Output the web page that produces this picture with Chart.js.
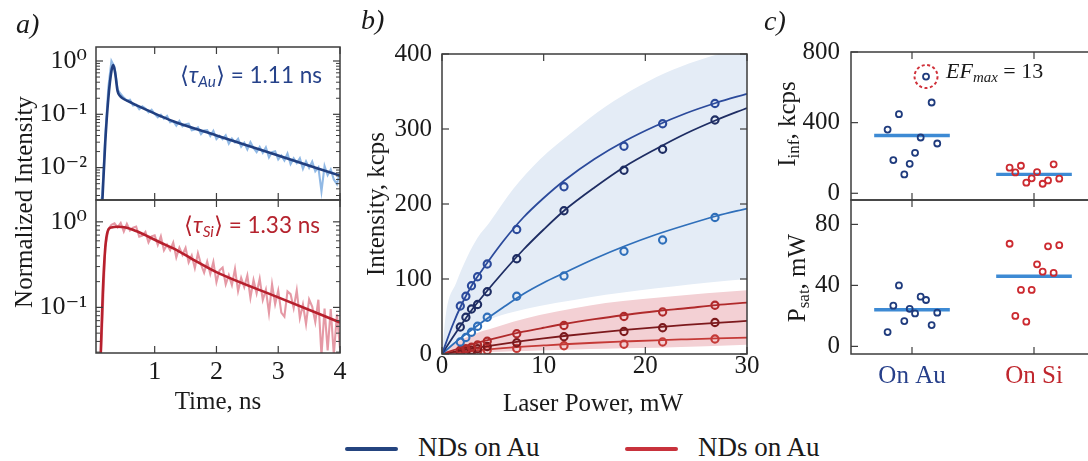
<!DOCTYPE html>
<html>
<head>
<meta charset="utf-8">
<title>NDs on Au / Si: decay, saturation and statistics</title>
<script src="https://cdn.jsdelivr.net/npm/chart.js@4.4.1/dist/chart.umd.min.js"></script>
<style>
  body { margin: 0; background: #fff; }
  #figure {
    position: relative; width: 1088px; height: 461px; overflow: hidden; background: #fff;
    font-family: 'Liberation Serif', 'DejaVu Serif', serif; color: #1a1a1a;
  }
  #figure canvas { position: absolute; }
  .txt { position: absolute; white-space: nowrap; line-height: 1; font-family: 'Liberation Serif', 'DejaVu Serif', serif; }
  .cxy { transform: translate(-50%, -50%); }
  .cy { transform: translateY(-50%); }
  .rot { transform: translate(-50%, -50%) rotate(-90deg); }
  .panel { font-style: italic; font-size: 28px; }
  .title { font-size: 25px; }
  .note { font-family: Lato, 'Open Sans', sans-serif; font-size: 22.5px; }
  .legend { font-size: 27px; font-family: 'Liberation Serif', serif; }
  .legend-line { position: absolute; height: 4px; width: 53px; border-radius: 2px; }
  sub { font-size: 0.68em; vertical-align: -0.28em; line-height: 0; }
</style>
</head>
<body>
<div id="figure">
  <canvas id="decayAu"></canvas>
  <canvas id="decaySi"></canvas>
  <canvas id="powerChart"></canvas>
  <canvas id="iinfChart"></canvas>
  <canvas id="psatChart"></canvas>

  <div class="txt panel cy" style="left:16px; top:24px">a)</div>
  <div class="txt panel cy" style="left:361px; top:20px">b)</div>
  <div class="txt panel cy" style="left:764px; top:21px">c)</div>

  <div class="txt title rot" style="left:23px; top:202px">Normalized Intensity</div>
  <div class="txt title cxy" style="left:218px; top:400px">Time, ns</div>
  <div class="txt title rot" style="left:375px; top:204px">Intensity, kcps</div>
  <div class="txt title cxy" style="left:593px; top:402px">Laser Power, mW</div>
  <div class="txt title rot" style="left:786px; top:124px">I<sub>inf</sub>, kcps</div>
  <div class="txt title rot" style="left:796px; top:278px">P<sub>sat</sub>, mW</div>

  <div class="txt note cy" style="right:766px; top:75px; color:#26428a">&#x27E8;<i>&tau;<sub>Au</sub></i>&#x27E9; = 1.11 ns</div>
  <div class="txt note cy" style="right:768px; top:225px; color:#b5232e">&#x27E8;<i>&tau;<sub>Si</sub></i>&#x27E9; = 1.33 ns</div>
  <div class="txt cy" style="left:946px; top:71px; font-size:22px"><i>EF<sub>max</sub></i> = 13</div>

  <div class="legend-line" style="left:345px; top:447px; background:#24447f"></div>
  <div class="txt legend cy" style="left:418px; top:447px">NDs on Au</div>
  <div class="legend-line" style="left:625px; top:447px; background:#c8323c"></div>
  <div class="txt legend cy" style="left:698px; top:447px">NDs on Au</div>
</div>

<script>
/* ==========================================
   DATA
   ========================================== */

// a) time-resolved PL, ns / normalized counts
const decayTime = [
  0.10, 0.15, 0.20, 0.25, 0.30, 0.35, 0.40, 0.45, 0.50, 0.55, 0.60, 0.65, 0.70, 0.75, 0.80, 0.85, 0.90, 0.95,
  1.00, 1.05, 1.10, 1.15, 1.20, 1.25, 1.30, 1.35, 1.40, 1.45, 1.50, 1.55, 1.60, 1.65, 1.70, 1.75, 1.80, 1.85, 1.90, 1.95,
  2.00, 2.05, 2.10, 2.15, 2.20, 2.25, 2.30, 2.35, 2.40, 2.45, 2.50, 2.55, 2.60, 2.65, 2.70, 2.75, 2.80, 2.85, 2.90, 2.95,
  3.00, 3.05, 3.10, 3.15, 3.20, 3.25, 3.30, 3.35, 3.40, 3.45, 3.50, 3.55, 3.60, 3.65, 3.70, 3.75, 3.80, 3.85, 3.90, 3.95,
  4.00
];
const auDecayData = [
  0.0015, 0.003, 0.04, 0.32, 1.0, 0.78, 0.29, 0.24, 0.206, 0.181, 0.187, 0.146, 0.151, 0.125, 0.141, 0.128, 0.1095, 0.122,
  0.1016, 0.088, 0.0983, 0.0828, 0.0931, 0.0709, 0.0741, 0.0613, 0.0747, 0.0598, 0.0651, 0.067, 0.0502, 0.0517, 0.0567, 0.0425, 0.0496, 0.0507, 0.0395, 0.049,
  0.0344, 0.0395, 0.0342, 0.0402, 0.0283, 0.035, 0.0297, 0.0347, 0.0248, 0.0292, 0.0219, 0.03, 0.0233, 0.0195, 0.0245, 0.0189, 0.024, 0.0156, 0.0196, 0.0203,
  0.0142, 0.0168, 0.0136, 0.0184, 0.0117, 0.0149, 0.0122, 0.015, 0.0095, 0.0131, 0.0099, 0.013, 0.0085, 0.0101, 0.0036, 0.0107, 0.0072, 0.0092, 0.006, 0.0049,
  0.0085
];
const siDecayData = [
  0.01, 0.06, 0.5, 0.82, 0.92, 0.96, 0.86, 0.97, 0.771, 0.947, 0.79, 0.853, 0.881, 0.67, 0.689, 0.76, 0.574, 0.677,
  0.696, 0.537, 0.679, 0.464, 0.54, 0.466, 0.572, 0.385, 0.499, 0.412, 0.497, 0.335, 0.404, 0.289, 0.43, 0.317, 0.255, 0.343, 0.247, 0.34,
  0.198, 0.271, 0.292, 0.186, 0.238, 0.183, 0.281, 0.155, 0.221, 0.173, 0.236, 0.13, 0.209, 0.146, 0.216, 0.122, 0.161, 0.086, 0.186, 0.109,
  0.157, 0.087, 0.078, 0.154, 0.143, 0.098, 0.158, 0.075, 0.108, 0.064, 0.124, 0.102, 0.0675, 0.123, 0.0275, 0.097, 0.0314, 0.0954, 0.028, 0.0828,
  0.0334
];
const auFitTime = [0.15, 0.2, 0.25, 0.3, 0.33, 0.36, 0.4, 0.44, 0.48, 0.6, 0.69, 0.9, 1.1, 1.31, 2, 3, 4];
const auFitValues = [0.002, 0.03, 0.2, 0.65, 0.84, 0.6, 0.27, 0.22, 0.2, 0.17, 0.15, 0.117, 0.092, 0.073, 0.04, 0.0168, 0.0071];
const siFitTime = [0.12, 0.16, 0.2, 0.24, 0.3, 0.4, 0.53, 0.7, 0.9, 1.1, 1.31, 1.6, 2.0, 3.0, 4.0];
const siFitValues = [0.02, 0.15, 0.5, 0.78, 0.86, 0.875, 0.86, 0.78, 0.67, 0.57, 0.486, 0.37, 0.258, 0.131, 0.0667];
const decayTicks = [1, 2, 3, 4];

// b) saturation curves, mW / kcps
const laserPower = [1.8, 2.35, 2.9, 3.5, 4.45, 7.35, 12.0, 17.9, 21.7, 26.85];
const auTopIntensity = [64, 77, 91, 103, 120, 166, 223, 277, 307, 334];
const auMidIntensity = [36, 49, 60, 66, 83, 127, 191, 245, 273, 312];
const auLowIntensity = [16, 22, 29, 37, 49, 77, 104, 137, 152, 182];
const siTopIntensity = [5, 7, 9, 12, 17, 27, 38, 50, 56, 65];
const siMidIntensity = [3, 4, 5, 7, 10, 15, 23, 30, 35, 42];
const siLowIntensity = [1.5, 2, 2.5, 3.5, 5, 7.5, 11, 13, 16, 20];

const fitPower = [0, 1, 2, 3, 4, 6, 8, 10, 12, 15, 18, 21, 24, 27, 30];
const auTopFit = [0, 37, 68, 93, 113, 150, 182, 208, 231, 260, 284, 304, 321, 335, 347];
const auMidFit = [0, 21, 41, 60, 77, 109, 139, 166, 191, 222, 250, 273, 294, 312, 328];
const auLowFit = [0, 12, 23, 33, 43, 62, 80, 95, 108, 127, 144, 159, 172, 184, 194];
const siTopFit = [0, 4.6, 9, 13, 16.8, 23.6, 29.7, 35, 40, 46.4, 52, 57, 61, 65.2, 68.4];
const siMidFit = [0, 2.6, 5, 7.3, 9.5, 13.6, 17.4, 20.8, 24, 28.3, 32.1, 35.6, 38.7, 41.5, 44.1];
const siLowFit = [0, 1.5, 3, 4.3, 5.5, 7.7, 9.7, 11.4, 13, 15, 16.7, 18.3, 19.6, 20.8, 21.8];

const bandPower = [0, 0.4, 1.4, 2.5, 3.5, 4.65, 7, 9.6, 13, 16.1, 19.5, 22.7, 26, 30];
const auBandUpper = [0, 55, 95, 130, 155, 175, 220, 259, 298, 330, 358, 379, 395, 410];
const auBandLower = [0, 6, 19, 30, 38, 46, 56, 64, 72, 79, 85, 90, 95, 100];
const siBandUpper = [0, 5, 15, 23, 28.5, 33, 43, 52, 61, 68, 73, 77, 81, 85];
const siBandLower = [0, 0.5, 1, 1.7, 2.1, 2.6, 3.7, 4.8, 6, 7, 8, 9, 10.5, 12.4];
const powerTicksX = [0, 10, 20, 30];
const powerTicksY = [0, 100, 200, 300, 400];

// c) per-particle fit parameters
const substrates = ['On Au', 'On Si'];
const jitter = [-0.2, -0.153, -0.107, -0.063, -0.019, 0.025, 0.071, 0.115, 0.161, 0.207];
const auIinf = [361, 188, 448, 107, 167, 229, 316, 661, 514, 282];
const siIinf = [145, 118, 156, 60, 85, 120, 54, 73, 164, 83];
const auPsat = [9.4, 26.7, 40, 16.6, 24.6, 21.6, 32.6, 30.4, 14, 22.1];
const siPsat = [67.3, 20, 37, 16.2, 37, 53.8, 49, 65.6, 48.2, 66.4];
const meanIinf = [327, 107];
const meanPsat = [24, 46];
const efMaxIndex = 7;
const iinfTicks = [0, 400, 800];
const psatTicks = [0, 40, 80];

/* ==========================================
   STYLE
   ========================================== */

const FONT = "'Liberation Serif', 'DejaVu Serif', serif";
const INK = '#1a1a1a';
const FRAME = '#3d3d3d';
const AU_FIT = '#213f80';
const AU_RAW = 'rgba(118, 168, 222, 0.8)';
const SI_FIT = '#b7202d';
const SI_RAW = 'rgba(222, 128, 142, 0.8)';
const AU_DOT = '#1f3b7d';
const SI_DOT = '#cc2a30';
const MEAN_COLOR = '#3d8ad4';
const MEAN_HALF = 0.31;
const substrateColors = ['#263f8a', '#c0262d'];

/* ==========================================
   HELPERS
   ========================================== */

function place(id, left, top, width, height) {
  const canvas = document.getElementById(id);
  canvas.width = width;
  canvas.height = height;
  Object.assign(canvas.style, {
    left: left + 'px', top: top + 'px', width: width + 'px', height: height + 'px'
  });
  return canvas;
}

const xy = (xs, ys) => xs.map((x, i) => ({ x, y: ys[i] }));
const fixedWidth = w => scale => { scale.width = w; };
const fixedHeight = h => scale => { scale.height = h; };
const setTicks = values => scale => { scale.ticks = values.map(value => ({ value })); };

const SUP = { '-': '\u207B', '0': '\u2070', '1': '\u00B9', '2': '\u00B2', '3': '\u00B3' };
function powerOfTen(v) {
  const e = String(Math.round(Math.log10(v)));
  return '10' + e.split('').map(ch => SUP[ch]).join('');
}

// minor tick positions of a log axis (2..9 per decade)
function logMinorTicks(min, max) {
  const out = [];
  for (let e = Math.floor(Math.log10(min)); e < Math.ceil(Math.log10(max)); e++) {
    for (let k = 2; k <= 9; k++) {
      const v = k * Math.pow(10, e);
      if (v > min && v < max) out.push(v);
    }
  }
  return out;
}

function hiddenGrid() {
  return { grid: { display: false, drawTicks: false }, border: { display: false } };
}

function baseOptions() {
  return {
    responsive: false,
    maintainAspectRatio: false,
    animation: false,
    events: [],
    plugins: { legend: { display: false }, tooltip: { enabled: false } }
  };
}

/**
 * Box frame with inward ticks on all four sides (matplotlib look)
 */
const frameTicks = {
  id: 'frameTicks',
  afterDatasetsDraw(chart, args, opts) {
    const { ctx, chartArea: a, scales } = chart;
    const seg = (x1, y1, x2, y2) => {
      ctx.beginPath(); ctx.moveTo(x1, y1); ctx.lineTo(x2, y2); ctx.stroke();
    };
    ctx.save();
    ctx.strokeStyle = FRAME;
    ctx.lineWidth = 1.2;
    (opts.x || []).forEach(v => {
      const p = scales.x.getPixelForValue(v);
      seg(p, a.bottom, p, a.bottom - 7);
      seg(p, a.top, p, a.top + 7);
    });
    (opts.y || []).forEach(v => {
      const p = scales.y.getPixelForValue(v);
      seg(a.left, p, a.left + 7, p);
      seg(a.right, p, a.right - 7, p);
    });
    ctx.lineWidth = 1;
    (opts.yMinor || []).forEach(v => {
      const p = scales.y.getPixelForValue(v);
      seg(a.left, p, a.left + 4, p);
      seg(a.right, p, a.right - 4, p);
    });
    ctx.lineWidth = 1.5;
    ctx.strokeRect(a.left, a.top, a.right - a.left, a.bottom - a.top);
    ctx.restore();
  }
};

/**
 * Dashed ring around a highlighted data point
 */
const highlightRing = {
  id: 'highlightRing',
  afterDatasetsDraw(chart, args, opts) {
    if (!opts || !opts.point) return;
    const { ctx, scales } = chart;
    const px = scales.x.getPixelForValue(opts.point.x);
    const py = scales.y.getPixelForValue(opts.point.y);
    ctx.save();
    ctx.strokeStyle = '#d0313a';
    ctx.lineWidth = 2;
    ctx.setLineDash([3, 2.5]);
    ctx.beginPath();
    ctx.arc(px, py, 11.5, 0, Math.PI * 2);
    ctx.stroke();
    ctx.restore();
  }
};

/* ==========================================
   PANEL a) DECAY CURVES
   ========================================== */

function decayChart(canvas, cfg) {
  const opts = baseOptions();
  opts.layout = { padding: cfg.padding };
  opts.scales = {
    x: {
      type: 'linear', min: 0.05, max: 4, ...hiddenGrid(),
      ticks: {
        display: cfg.showTime, color: INK, padding: 6,
        font: { family: FONT, size: 26, lineHeight: 1 }
      },
      afterBuildTicks: setTicks(decayTicks),
      afterFit: fixedHeight(cfg.showTime ? 45 : 0)
    },
    y: {
      type: 'logarithmic', min: cfg.min, max: cfg.max, ...hiddenGrid(),
      ticks: {
        color: INK, padding: 9, callback: powerOfTen,
        font: { family: FONT, size: 26, lineHeight: 1 }
      },
      afterBuildTicks: setTicks(cfg.majors),
      afterFit: fixedWidth(96)
    }
  };
  opts.plugins.frameTicks = { x: decayTicks, y: cfg.majors, yMinor: logMinorTicks(cfg.min, cfg.max) };

  return new Chart(canvas, {
    type: 'line',
    data: {
      datasets: [
        { data: xy(cfg.fitTime, cfg.fitValues), borderColor: cfg.fitColor, borderWidth: 2.6,
          pointRadius: 0, cubicInterpolationMode: 'monotone', clip: 0 },
        { data: xy(decayTime, cfg.raw), borderColor: cfg.rawColor, borderWidth: 2.1,
          pointRadius: 0, clip: 0 }
      ]
    },
    options: opts,
    plugins: [frameTicks]
  });
}

function initDecayCharts() {
  decayChart(place('decayAu', 0, 17, 370, 213), {
    padding: { top: 30, right: 30, bottom: 30, left: 0 },
    showTime: false, min: 0.00247, max: 1.83, majors: [1, 0.1, 0.01],
    fitTime: auFitTime, fitValues: auFitValues, raw: auDecayData,
    fitColor: AU_FIT, rawColor: AU_RAW
  });
  decayChart(place('decaySi', 0, 170, 370, 238), {
    padding: { top: 30, right: 30, bottom: 10, left: 0 },
    showTime: true, min: 0.0293, max: 1.8, majors: [1, 0.1],
    fitTime: siFitTime, fitValues: siFitValues, raw: siDecayData,
    fitColor: SI_FIT, rawColor: SI_RAW
  });
}

/* ==========================================
   PANEL b) SATURATION CURVES
   ========================================== */

function initPowerChart() {
  const series = [
    { points: auTopIntensity, fit: auTopFit, color: '#2b4a9b' },
    { points: auMidIntensity, fit: auMidFit, color: '#1e2d63' },
    { points: auLowIntensity, fit: auLowFit, color: '#2f6fba' },
    { points: siTopIntensity, fit: siTopFit, color: '#b02a2b' },
    { points: siMidIntensity, fit: siMidFit, color: '#7c191c' },
    { points: siLowIntensity, fit: siLowFit, color: '#c53a37' }
  ];

  const datasets = [];
  series.forEach(s => {
    datasets.push({
      data: xy(fitPower, s.fit), borderColor: s.color, borderWidth: 1.8,
      pointRadius: 0, cubicInterpolationMode: 'monotone'
    });
    datasets.push({
      data: xy(laserPower, s.points), showLine: false, pointRadius: 3.6, pointBorderWidth: 2.1,
      pointBorderColor: s.color, pointBackgroundColor: 'rgba(0,0,0,0)'
    });
  });

  // shaded spread bands, red drawn over blue
  const band = (upper, lower, color) => [
    { data: xy(bandPower, upper), fill: '+1', backgroundColor: color, borderWidth: 0,
      pointRadius: 0, cubicInterpolationMode: 'monotone' },
    { data: xy(bandPower, lower), fill: false, borderWidth: 0, pointRadius: 0,
      cubicInterpolationMode: 'monotone' }
  ];
  datasets.push(...band(siBandUpper, siBandLower, '#f3d0d4'));
  datasets.push(...band(auBandUpper, auBandLower, '#e4ecf6'));

  const opts = baseOptions();
  opts.layout = { padding: { top: 30, right: 30, bottom: 10, left: 0 } };
  opts.scales = {
    x: {
      type: 'linear', min: 0, max: 30, ...hiddenGrid(),
      ticks: { color: INK, padding: 0, font: { family: FONT, size: 25, lineHeight: 1 } },
      afterBuildTicks: setTicks(powerTicksX),
      afterFit: fixedHeight(45)
    },
    y: {
      type: 'linear', min: 0, max: 400, ...hiddenGrid(),
      ticks: { color: INK, padding: 10, font: { family: FONT, size: 25, lineHeight: 1 } },
      afterBuildTicks: setTicks(powerTicksY),
      afterFit: fixedWidth(62)
    }
  };
  opts.plugins.frameTicks = { x: powerTicksX, y: powerTicksY };

  new Chart(place('powerChart', 380, 24, 397, 385), {
    type: 'line',
    data: { datasets },
    options: opts,
    plugins: [frameTicks]
  });
}

/* ==========================================
   PANEL c) STATISTICS
   ========================================== */

function statsChart(canvas, cfg) {
  const dots = (offset, values, color) => ({
    data: xy(jitter.map(j => offset + j), values), showLine: false,
    pointRadius: 3, pointBorderWidth: 1.8, pointBorderColor: color,
    pointBackgroundColor: 'rgba(0,0,0,0)'
  });
  const mean = (offset, value) => ({
    data: [{ x: offset - MEAN_HALF, y: value }, { x: offset + MEAN_HALF, y: value }],
    borderColor: MEAN_COLOR, borderWidth: 3.4, borderCapStyle: 'butt', pointRadius: 0
  });

  const opts = baseOptions();
  opts.layout = { padding: cfg.padding };
  opts.scales = {
    x: {
      type: 'linear', min: -0.5, max: 1.5, ...hiddenGrid(),
      ticks: {
        display: cfg.showLabels, padding: 10,
        color: ctx => substrateColors[ctx.index],
        callback: v => substrates[v],
        font: { family: FONT, size: 25, lineHeight: 1 }
      },
      afterBuildTicks: setTicks([0, 1]),
      afterFit: fixedHeight(cfg.showLabels ? 45 : 0)
    },
    y: {
      type: 'linear', min: cfg.min, max: cfg.max, ...hiddenGrid(),
      ticks: { color: INK, padding: 11, font: { family: FONT, size: 25, lineHeight: 1 } },
      afterBuildTicks: setTicks(cfg.ticks),
      afterFit: fixedWidth(70)
    }
  };
  opts.plugins.frameTicks = { x: [0, 1], y: cfg.ticks };
  opts.plugins.highlightRing = cfg.ring ? { point: cfg.ring } : {};

  return new Chart(canvas, {
    type: 'line',
    data: {
      datasets: [
        dots(0, cfg.au, AU_DOT),
        dots(1, cfg.si, SI_DOT),
        mean(0, cfg.means[0]),
        mean(1, cfg.means[1])
      ]
    },
    options: opts,
    plugins: [frameTicks, highlightRing]
  });
}

function initStatsCharts() {
  statsChart(place('iinfChart', 781, 22, 344, 208), {
    padding: { top: 30, right: 30, bottom: 30, left: 0 },
    showLabels: false, min: -38, max: 800, ticks: iinfTicks,
    au: auIinf, si: siIinf, means: meanIinf,
    ring: { x: jitter[efMaxIndex], y: auIinf[efMaxIndex] }
  });
  statsChart(place('psatChart', 781, 170, 344, 239), {
    padding: { top: 30, right: 30, bottom: 10, left: 0 },
    showLabels: true, min: -5, max: 96, ticks: psatTicks,
    au: auPsat, si: siPsat, means: meanPsat
  });
}

/* ==========================================
   MAIN
   ========================================== */

document.addEventListener('DOMContentLoaded', () => {
  initDecayCharts();
  initPowerChart();
  initStatsCharts();
});
</script>
</body>
</html>
